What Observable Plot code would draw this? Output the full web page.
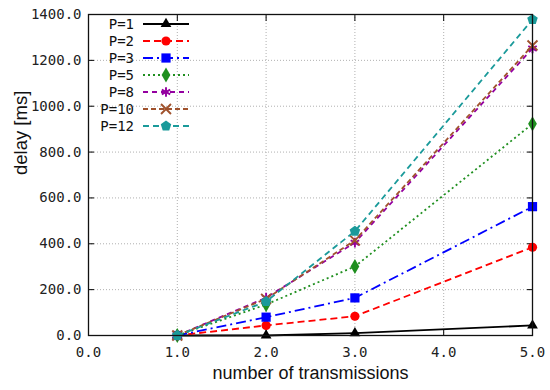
<!DOCTYPE html>
<html>
<head>
<meta charset="utf-8">
<script src="https://cdn.jsdelivr.net/npm/d3@7"></script>
<script src="https://cdn.jsdelivr.net/npm/@observablehq/plot@0.6"></script>
<style>
  html, body { margin: 0; padding: 0; background: #fff; }
  #wrap { position: relative; width: 550px; height: 390px; }
  #legend { position: absolute; left: 0; top: 0; pointer-events: none; }
</style>
</head>
<body>
<div id="wrap"></div>
<script>
// ---- data ----
const transmissions = [1, 2, 3, 5];
const seriesNames = ["P=1", "P=2", "P=3", "P=5", "P=8", "P=10", "P=12"];
const p1  = [0, 0, 10, 44];
const p2  = [0, 44, 84, 385];
const p3  = [0, 80, 164, 562];
const p5  = [0, 135, 301, 923];
const p8  = [0, 165, 405, 1252];
const p10 = [0, 160, 415, 1265];
const p12 = [0, 148, 455, 1378];
const xTicks = [0, 1, 2, 3, 4, 5];
const yTicks = [0, 200, 400, 600, 800, 1000, 1200, 1400];

// ---- styles ----
const pentagon = {
  draw(ctx, size) {
    const R = Math.sqrt(size / 2.3776);
    for (let i = 0; i < 5; i++) {
      const a = -Math.PI / 2 + i * 2 * Math.PI / 5;
      const x = R * Math.cos(a), y = R * Math.sin(a);
      if (i === 0) ctx.moveTo(x, y); else ctx.lineTo(x, y);
    }
    ctx.closePath();
  }
};
const styles = {
  "P=1":  {color: "#000000", dash: null,        symbol: "triangle", d3sym: d3.symbolTriangle, fill: true,  r: 4.0},
  "P=2":  {color: "#ff0000", dash: "7,4",       symbol: "circle",   d3sym: d3.symbolCircle,   fill: true,  r: 4.6},
  "P=3":  {color: "#0000ff", dash: "10,4,2,4",  symbol: "square",   d3sym: d3.symbolSquare,   fill: true,  r: 5.2},
  "P=5":  {color: "#1f8f1f", dash: "2,3",       symbol: "diamond",  d3sym: d3.symbolDiamond,  fill: true,  r: 4.6},
  "P=8":  {color: "#9400a0", dash: "5,4",       symbol: "asterisk", d3sym: d3.symbolAsterisk, fill: false, r: 4.6},
  "P=10": {color: "#a0522d", dash: "5,3",       symbol: "times",    d3sym: d3.symbolTimes,    fill: false, r: 4.6},
  "P=12": {color: "#1a9a9a", dash: "6,4",       symbol: pentagon,   d3sym: pentagon,          fill: true,  r: 4.8}
};
const seriesValues = [p1, p2, p3, p5, p8, p10, p12];
const rows = [];
seriesNames.forEach((name, i) => {
  transmissions.forEach((t, j) => rows.push({series: name, x: t, y: seriesValues[i][j]}));
});

const W = 550, H = 390;
const mono = "'DejaVu Sans Mono', monospace";
const sans = "'Liberation Sans', Arial, sans-serif";

const marks = [
  Plot.gridX(xTicks.filter(d => d > 0 && d < 5), {stroke: "#b0b0b0", strokeOpacity: 1, strokeDasharray: "1,2"}),
  Plot.gridY(yTicks.filter(d => d > 0 && d < 1400), {stroke: "#b0b0b0", strokeOpacity: 1, strokeDasharray: "1,2"}),
  Plot.axisX(xTicks, {anchor: "bottom", tickSize: -6, tickPadding: 18, tickFormat: d => d.toFixed(1), fontFamily: mono, fontSize: 14, fill: "#222", label: null}),
  Plot.axisX(xTicks, {anchor: "top", tickSize: -6, tickFormat: () => "", label: null}),
  Plot.axisY(yTicks, {anchor: "left", tickSize: -6, tickPadding: 13, tickFormat: d => d.toFixed(1), fontFamily: mono, fontSize: 14, fill: "#222", label: null}),
  Plot.axisY(yTicks, {anchor: "right", tickSize: -6, tickFormat: () => "", label: null}),
];
seriesNames.forEach(name => {
  const s = styles[name];
  const d = rows.filter(r => r.series === name);
  marks.push(Plot.line(d, {x: "x", y: "y", stroke: s.color, strokeWidth: 1.8, strokeDasharray: s.dash, strokeLinecap: "butt"}));
  marks.push(Plot.dot(d, {x: "x", y: "y", symbol: s.symbol, r: s.r,
    fill: s.fill ? s.color : "none", stroke: s.color, strokeWidth: s.fill ? 0 : 1.9}));
});
marks.push(Plot.frame({stroke: "#111", strokeWidth: 1.3}));
marks.push(Plot.text(["number of transmissions"], {frameAnchor: "bottom", dy: 43, fontSize: 18, fontFamily: sans, fill: "#111"}));
marks.push(Plot.text(["delay [ms]"], {frameAnchor: "left", dx: -67, rotate: -90, fontSize: 18.5, fontFamily: sans, fill: "#111"}));

const chart = Plot.plot({
  width: W, height: H,
  marginLeft: 88, marginRight: 18, marginTop: 14, marginBottom: 55,
  x: {domain: [0, 5], axis: null},
  y: {domain: [0, 1400], axis: null},
  style: {background: "#fff"},
  marks
});
document.getElementById("wrap").appendChild(chart);

// ---- legend overlay ----
const lg = d3.select("#wrap").append("svg").attr("id", "legend").attr("width", W).attr("height", H);
seriesNames.forEach((name, i) => {
  const s = styles[name];
  const y = 24 + i * 17;
  const g = lg.append("g");
  g.append("text").attr("x", 134).attr("y", y).attr("text-anchor", "end").attr("dominant-baseline", "central")
    .attr("font-family", mono).attr("font-size", 14).attr("fill", "#111").text(name);
  g.append("line").attr("x1", 143).attr("x2", 189).attr("y1", y).attr("y2", y)
    .attr("stroke", s.color).attr("stroke-width", 1.8).attr("stroke-dasharray", s.dash);
  g.append("path").attr("transform", `translate(166,${y})`)
    .attr("d", d3.symbol(s.d3sym, Math.PI * s.r * s.r)())
    .attr("fill", s.fill ? s.color : "none").attr("stroke", s.fill ? "none" : s.color).attr("stroke-width", 1.9);
});
</script>
</body>
</html>
